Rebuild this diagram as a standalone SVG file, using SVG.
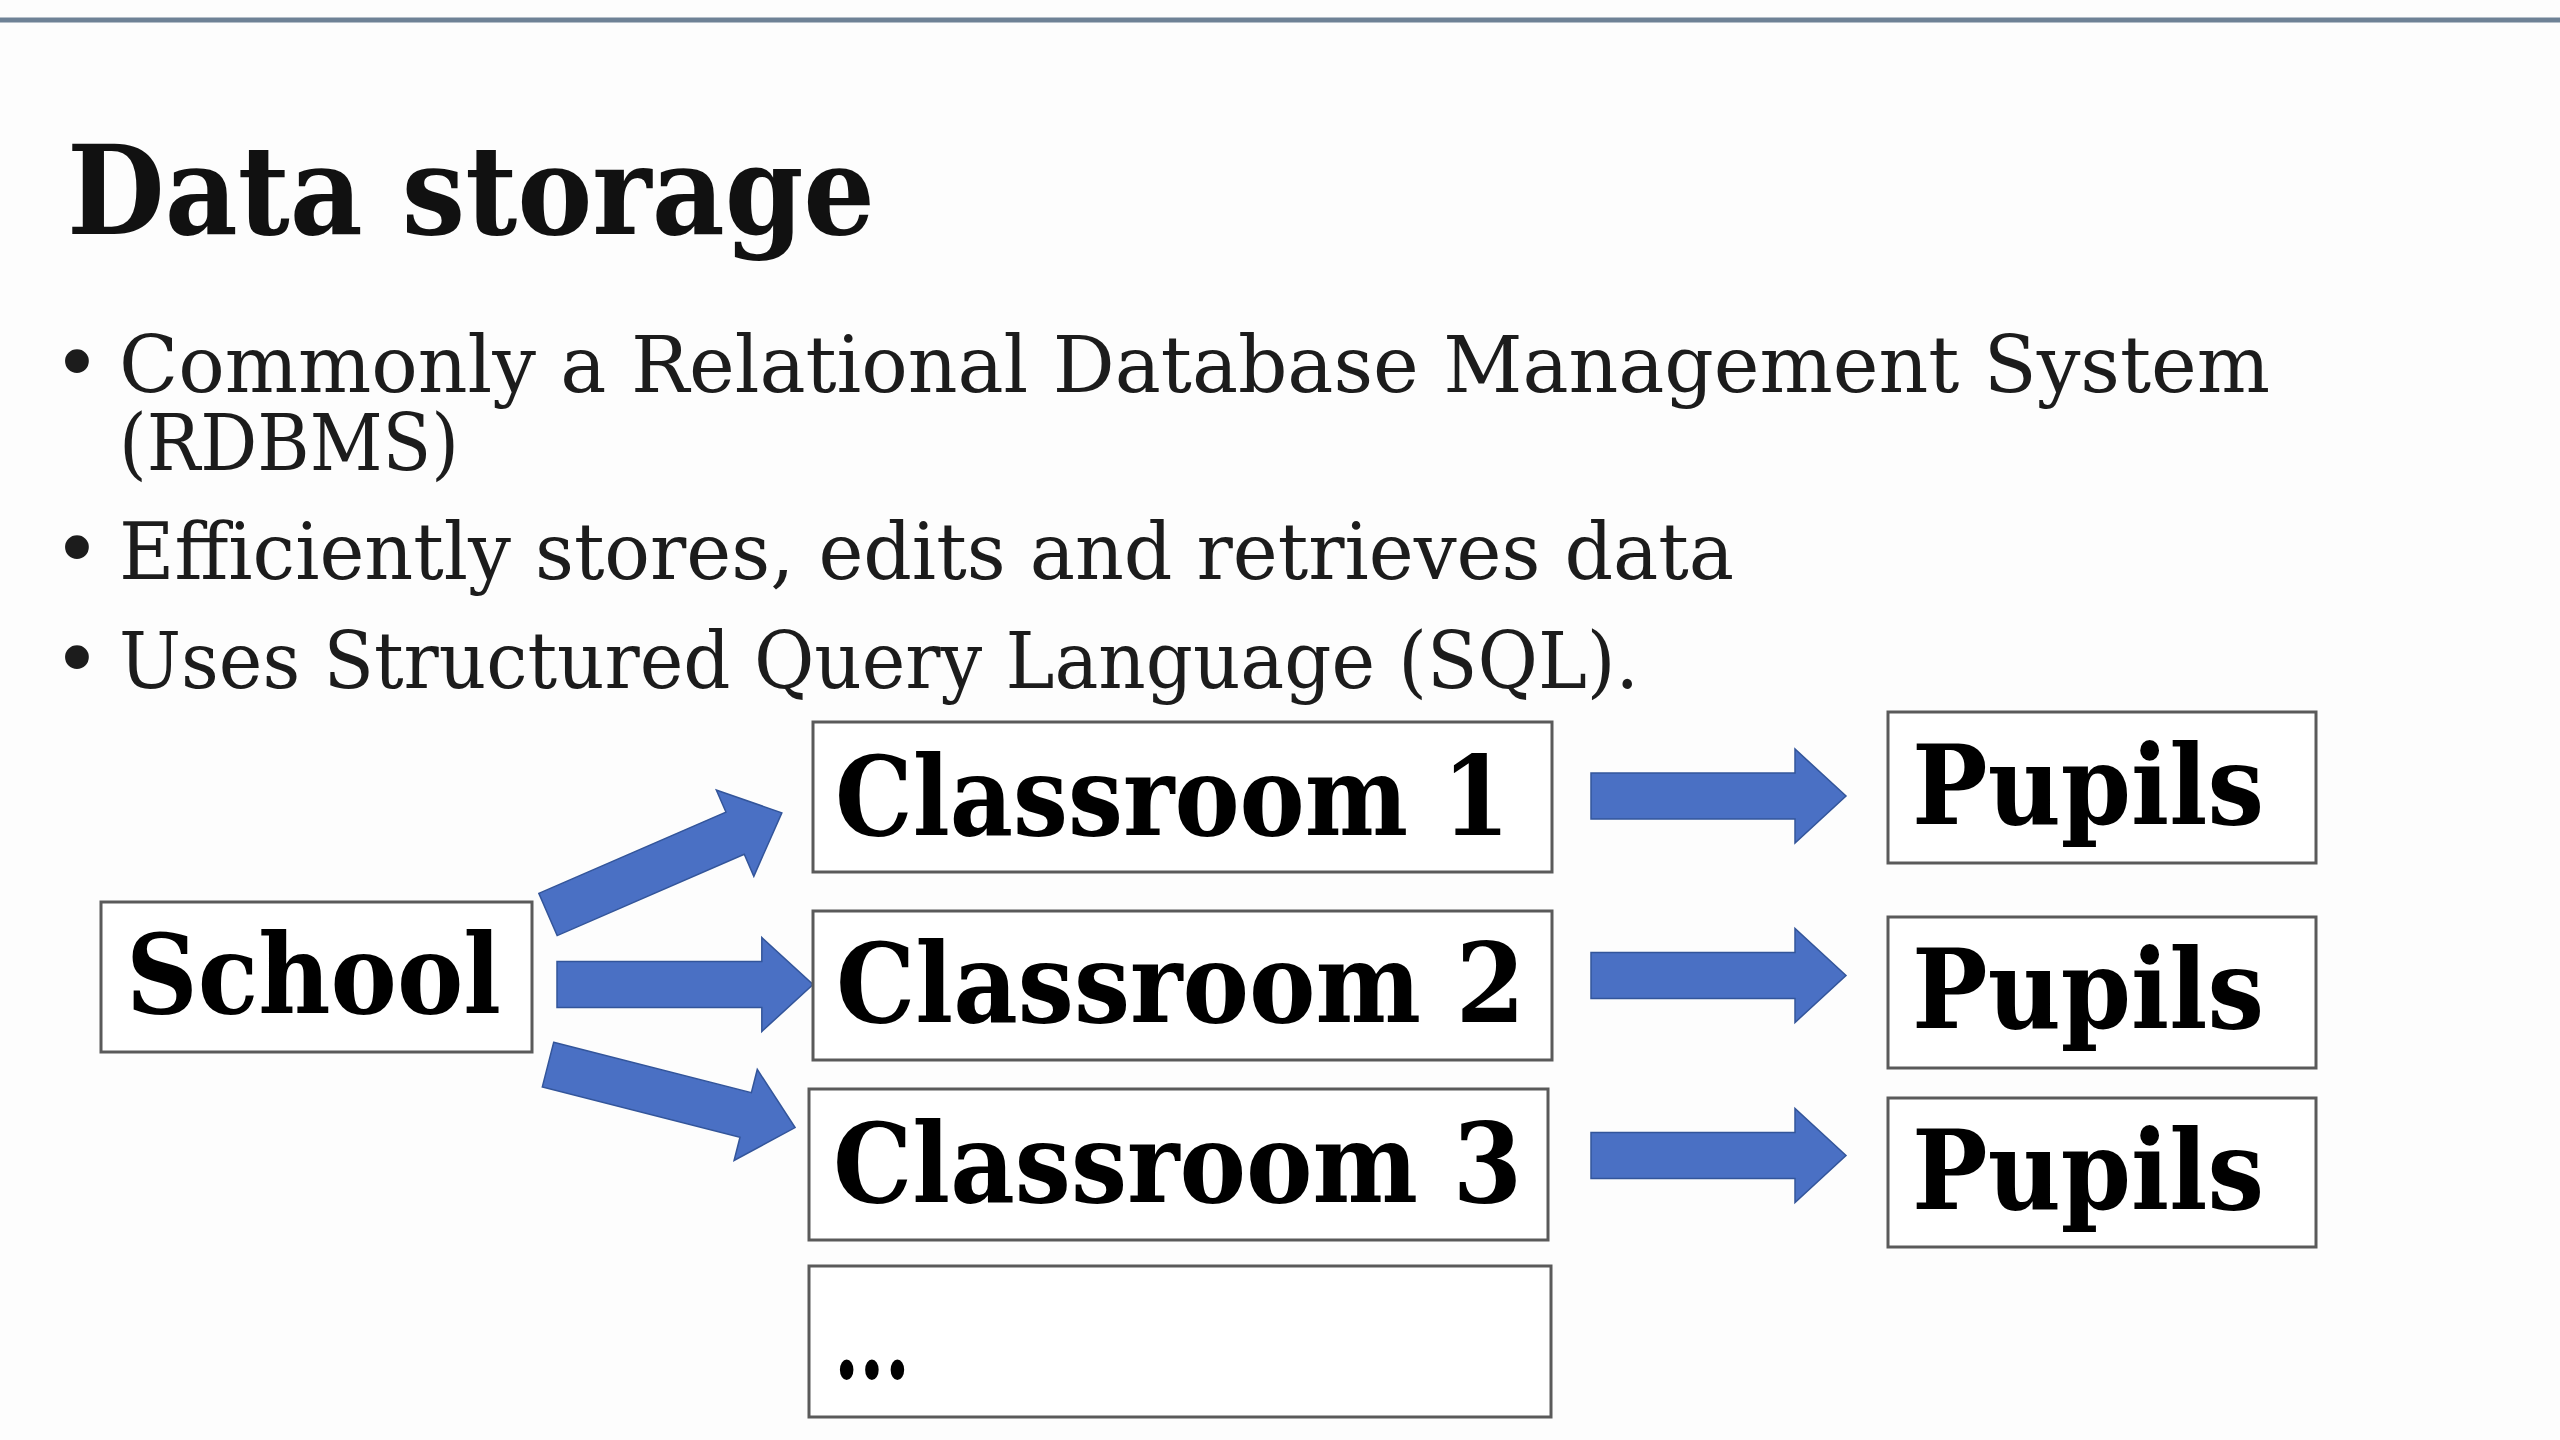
<svg xmlns="http://www.w3.org/2000/svg" width="2560" height="1440" viewBox="0 0 2560 1440">
<style>
.bg{fill:#fdfdfd}
.topline{stroke:#6e8296;stroke-width:5}
.title{font-family:"DejaVu Serif Condensed","DejaVu Serif",serif;font-weight:bold;font-size:123px;fill:#111}
.body{font-family:"DejaVu Serif Condensed","DejaVu Serif",serif;font-size:78px;fill:#1c1c1c}
.bullet{font-family:"DejaVu Sans",sans-serif;font-size:82px;fill:#1c1c1c;text-anchor:middle}
.box{fill:#ffffff;stroke:#5a5a5a;stroke-width:3}
.lbl{font-family:"DejaVu Serif Condensed","DejaVu Serif",serif;font-weight:bold;font-size:110px;fill:#000}
.arrow{fill:#4a70c4;stroke:#33559a;stroke-width:1.5}
</style>
<defs>
<path id="blockArrow" d="M0,-23 H204 V-47 L255,0 L204,47 V23 H0 Z"/>
</defs>
<rect class="bg" x="0" y="0" width="2560" height="1440"/>
<line class="topline" x1="0" y1="20" x2="2560" y2="20"/>

<g id="title">
<text class="title" x="67" y="234" textLength="808" lengthAdjust="spacingAndGlyphs">Data storage</text>
</g>

<g id="bullets">
<text class="bullet" x="77" y="392">•</text>
<text class="body" x="119" y="392" textLength="2151" lengthAdjust="spacingAndGlyphs">Commonly a Relational Database Management System</text>
<text class="body" x="119" y="470" textLength="340" lengthAdjust="spacingAndGlyphs">(RDBMS)</text>
<text class="bullet" x="77" y="578">•</text>
<text class="body" x="119" y="579" textLength="1615" lengthAdjust="spacingAndGlyphs">Efficiently stores, edits and retrieves data</text>
<text class="bullet" x="77" y="688">•</text>
<text class="body" x="119" y="688" textLength="1520" lengthAdjust="spacingAndGlyphs">Uses Structured Query Language (SQL).</text>
</g>

<g id="connectors">
<use href="#blockArrow" class="arrow" transform="translate(548,914.5) rotate(-23.5)"/>
<use href="#blockArrow" class="arrow" transform="translate(557,984.5) scale(1.004,1)"/>
<use href="#blockArrow" class="arrow" transform="translate(548,1064.6) rotate(14.3)"/>
<use href="#blockArrow" class="arrow" transform="translate(1591,796)"/>
<use href="#blockArrow" class="arrow" transform="translate(1591,975.5)"/>
<use href="#blockArrow" class="arrow" transform="translate(1591,1155.5)"/>
</g>

<g id="school">
<rect class="box" x="101" y="902" width="431" height="150"/>
<text class="lbl" x="126" y="1013" textLength="375" lengthAdjust="spacingAndGlyphs">School</text>
</g>

<g id="classroom1">
<rect class="box" x="813" y="722" width="739" height="150"/>
<text class="lbl" x="835" y="835" textLength="675" lengthAdjust="spacingAndGlyphs">Classroom 1</text>
</g>

<g id="classroom2">
<rect class="box" x="813" y="911" width="739" height="149"/>
<text class="lbl" x="836" y="1022" textLength="689" lengthAdjust="spacingAndGlyphs">Classroom 2</text>
</g>

<g id="classroom3">
<rect class="box" x="809" y="1089" width="739" height="151"/>
<text class="lbl" x="833" y="1202" textLength="689" lengthAdjust="spacingAndGlyphs">Classroom 3</text>
</g>

<g id="more">
<rect class="box" x="809" y="1266" width="742" height="151"/>
<text class="lbl" x="834" y="1378" textLength="76" lengthAdjust="spacingAndGlyphs">...</text>
</g>

<g id="pupils1">
<rect class="box" x="1888" y="712" width="428" height="151"/>
<text class="lbl" x="1912" y="824" textLength="352" lengthAdjust="spacingAndGlyphs">Pupils</text>
</g>

<g id="pupils2">
<rect class="box" x="1888" y="917" width="428" height="151"/>
<text class="lbl" x="1912" y="1028" textLength="352" lengthAdjust="spacingAndGlyphs">Pupils</text>
</g>

<g id="pupils3">
<rect class="box" x="1888" y="1098" width="428" height="149"/>
<text class="lbl" x="1912" y="1209" textLength="352" lengthAdjust="spacingAndGlyphs">Pupils</text>
</g>
</svg>
